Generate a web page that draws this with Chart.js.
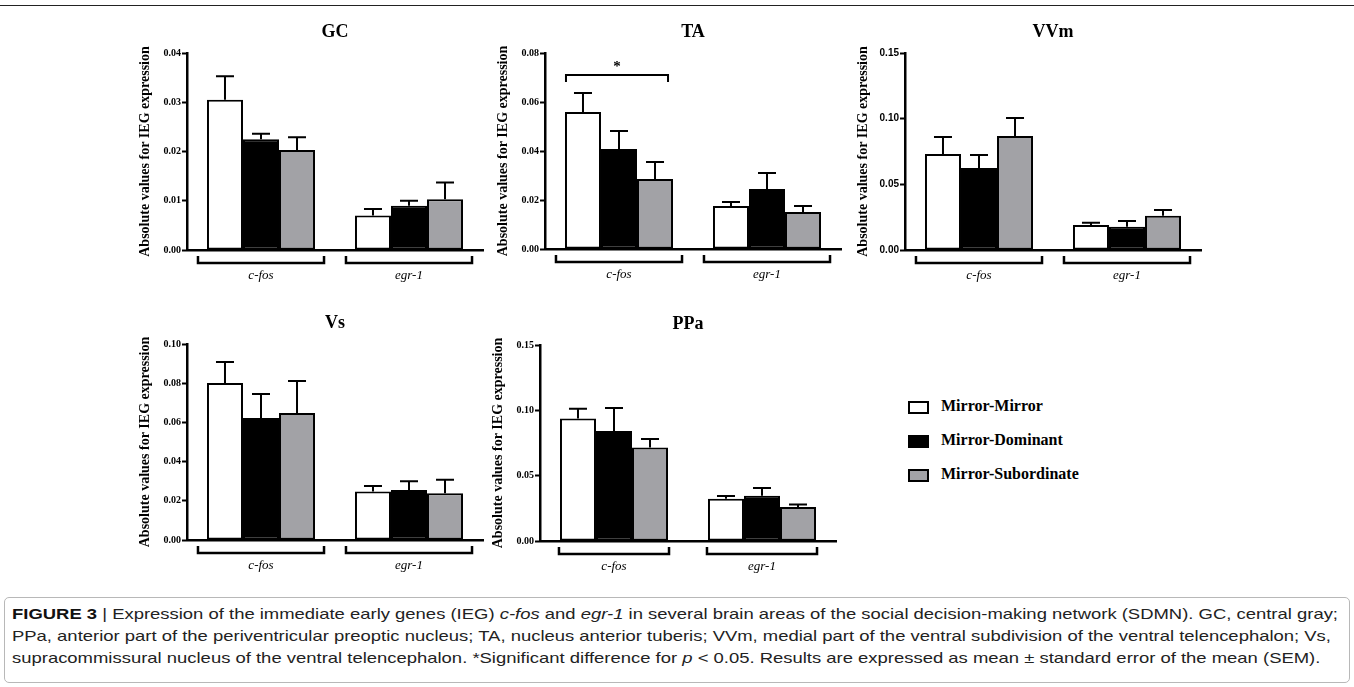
<!DOCTYPE html>
<html>
<head>
<meta charset="utf-8">
<script src="https://cdn.jsdelivr.net/npm/chart.js"></script>
<style>
  body { margin: 0; background: #fff; width: 1354px; height: 687px; position: relative; overflow: hidden; }
  canvas { position: absolute; }
  #topline { position: absolute; left: 0; top: 5px; width: 1354px; height: 0; border-top: 1.5px solid #222; }
  .leg { position: absolute; left: 908px; font: bold 16px "Liberation Serif", serif; color: #000; }
  .leg span.box { position: absolute; left: 0; width: 17px; height: 9px; border: 2px solid #000; }
  .leg span.txt { position: absolute; left: 33px; white-space: nowrap; }
  #capbox { position: absolute; left: 4px; top: 597px; width: 1344px; height: 84px; border: 1px solid #b8b8b8; border-radius: 5px; }
  .ln { position: absolute; left: 12px; white-space: nowrap; font: 15px "Liberation Sans Narrow", "Liberation Sans", sans-serif; color: #222; transform-origin: 0 50%; }
</style>
</head>
<body>
<div id="topline"></div>

<script>
  // shared categories / groups
  const genes = ['c-fos', 'egr-1'];
  const groups = ['Mirror-Mirror', 'Mirror-Dominant', 'Mirror-Subordinate'];
  const fills = ['#ffffff', '#000000', '#a2a2a6'];

  // means per group [c-fos, egr-1]
  const gcMeans  = [[0.0305, 0.0070], [0.0225, 0.0090], [0.0203, 0.0103]];
  const gcSem    = [[0.0048, 0.0013], [0.0011, 0.0010], [0.0026, 0.0034]];
  const taMeans  = [[0.0559, 0.0176], [0.0408, 0.0245], [0.0286, 0.0151]];
  const taSem    = [[0.0078, 0.0016], [0.0074, 0.0065], [0.0069, 0.0025]];
  const vvmMeans = [[0.0731, 0.0190], [0.0624, 0.0177], [0.0868, 0.0260]];
  const vvmSem   = [[0.0129, 0.0018], [0.0099, 0.0043], [0.0137, 0.0045]];
  const vsMeans  = [[0.0801, 0.0247], [0.0622, 0.0255], [0.0648, 0.0238]];
  const vsSem    = [[0.0107, 0.0029], [0.0123, 0.0045], [0.0163, 0.0070]];
  const ppaMeans = [[0.0937, 0.0324], [0.0842, 0.0347], [0.0715, 0.0260]];
  const ppaSem   = [[0.0076, 0.0020], [0.0176, 0.0058], [0.0065, 0.0020]];

  // TA significance bracket (c-fos, Mirror-Mirror vs Mirror-Subordinate)
  const taSigLevel = 0.071;

  const yTitle = 'Absolute values for IEG expression';
  const PLOT_W = 296, PAD_TOP = 50, Y_W = 54, X_H = 45, PAD_R = 8;

  // error whiskers (upper only), group brackets, labels, panel title
  const extras = {
    id: 'extras',
    afterDatasetsDraw(chart, args, opts) {
      const ctx = chart.ctx, y = chart.scales.y, area = chart.chartArea;
      ctx.save();
      ctx.strokeStyle = '#000';
      ctx.lineWidth = 2;
      chart.data.datasets.forEach((ds, di) => {
        chart.getDatasetMeta(di).data.forEach((bar, i) => {
          const top = y.getPixelForValue(ds.data[i] + ds.sem[i]);
          ctx.beginPath();
          ctx.moveTo(bar.x, bar.y);
          ctx.lineTo(bar.x, top);
          ctx.moveTo(bar.x - 9, top);
          ctx.lineTo(bar.x + 9, top);
          ctx.stroke();
        });
      });

      // brackets under each gene
      const m0 = chart.getDatasetMeta(0).data, m2 = chart.getDatasetMeta(2).data;
      ctx.lineWidth = 2.5;
      ctx.fillStyle = '#000';
      ctx.font = 'italic 13px "Liberation Serif", serif';
      ctx.textAlign = 'center';
      ctx.textBaseline = 'middle';
      genes.forEach((g, i) => {
        const l = m0[i].x - m0[i].width / 2 - opts.ext;
        const r = m2[i].x + m2[i].width / 2 + opts.ext;
        const by = area.bottom + 13;
        ctx.beginPath();
        ctx.moveTo(l, by - 7);
        ctx.lineTo(l, by);
        ctx.lineTo(r, by);
        ctx.lineTo(r, by - 7);
        ctx.stroke();
        ctx.fillText(g, (l + r) / 2, area.bottom + 26);
      });

      if (opts.sig) {
        const l = m0[0].x - m0[0].width / 2 + 1;
        const r = m2[0].x + m2[0].width / 2 - 5;
        const sy = y.getPixelForValue(opts.sig);
        ctx.lineWidth = 2;
        ctx.beginPath();
        ctx.moveTo(l, sy + 7);
        ctx.lineTo(l, sy);
        ctx.lineTo(r, sy);
        ctx.lineTo(r, sy + 7);
        ctx.stroke();
        ctx.font = 'bold 15px "Liberation Serif", serif';
        ctx.fillText('*', (l + r) / 2, sy - 8);
      }

      ctx.font = 'bold 18px "Liberation Serif", serif';
      ctx.fillText(opts.title, (area.left + area.right) / 2, area.top - 21);
      ctx.restore();
    }
  };

  function panel(title, means, sem, axisX, top, bottom, max, step, tickFamily, ext, sig) {
    const cv = document.createElement('canvas');
    const w = Y_W + PLOT_W + PAD_R, h = PAD_TOP + (bottom - top) + X_H;
    cv.width = w; cv.height = h;
    cv.style.left = (axisX - Y_W) + 'px';
    cv.style.top = (top - PAD_TOP) + 'px';
    document.body.appendChild(cv);

    new Chart(cv, {
      type: 'bar',
      data: {
        labels: genes,
        datasets: groups.map((g, k) => ({
          label: g,
          data: means[k],
          sem: sem[k],
          backgroundColor: fills[k],
          borderColor: '#000',
          borderWidth: 2,
          borderSkipped: false,
          categoryPercentage: 0.73,
          barPercentage: 1
        }))
      },
      options: {
        responsive: false,
        animation: false,
        devicePixelRatio: 1,
        layout: { padding: { top: PAD_TOP, right: PAD_R, left: 0, bottom: 0 } },
        plugins: {
          legend: { display: false },
          tooltip: { enabled: false },
          extras: { title: title, ext: ext, sig: sig }
        },
        scales: {
          x: {
            grid: { display: true, drawOnChartArea: false, drawTicks: false },
            border: { display: true, width: 2.5, color: '#000' },
            ticks: { display: false },
            afterFit(s) { s.height = X_H; }
          },
          y: {
            min: 0,
            max: max,
            ticks: {
              stepSize: step,
              padding: 1,
              color: '#000',
              font: { family: tickFamily, weight: 'bold', size: 10 },
              callback: v => v.toFixed(2)
            },
            grid: { drawOnChartArea: false, drawTicks: true, tickLength: 5, tickWidth: 2, tickColor: '#000' },
            border: { width: 2.5, color: '#000' },
            title: {
              display: true,
              text: yTitle,
              color: '#000',
              font: { family: '"Liberation Serif", serif', weight: 'bold', size: 14 }
            },
            afterFit(s) { s.width = Y_W; }
          }
        }
      },
      plugins: [extras]
    });
  }

  const serif = '"Liberation Serif", serif', sans = '"Liberation Sans", sans-serif';
  panel('GC',  gcMeans,  gcSem,  187, 53,  250, 0.04, 0.01, serif, 9, null);
  panel('TA',  taMeans,  taSem,  545, 53,  249, 0.08, 0.02, serif, 9, taSigLevel);
  panel('VVm', vvmMeans, vvmSem, 905, 53,  250, 0.15, 0.05, sans,  9, null);
  panel('Vs',  vsMeans,  vsSem,  187, 344, 540, 0.10, 0.02, serif, 9, null);
  panel('PPa', ppaMeans, ppaSem, 540, 345, 541, 0.15, 0.05, serif, 1, null);

  // legend
  groups.forEach((g, k) => {
    const d = document.createElement('div');
    d.className = 'leg';
    d.style.top = (401 + k * 34) + 'px';
    d.innerHTML = '<span class="box" style="background:' + fills[k] + '"></span>' +
                  '<span class="txt" style="top:-4px">' + g + '</span>';
    document.body.appendChild(d);
  });
</script>

<div id="capbox"></div>
<div class="ln" id="l1" style="top:605px"><b style="color:#111">FIGURE 3</b> | Expression of the immediate early genes (IEG) <i>c-fos</i> and <i>egr-1</i> in several brain areas of the social decision-making network (SDMN). GC, central gray;</div>
<div class="ln" style="top:627px">PPa, anterior part of the periventricular preoptic nucleus; TA, nucleus anterior tuberis; VVm, medial part of the ventral subdivision of the ventral telencephalon; Vs,</div>
<div class="ln" style="top:649px">supracommissural nucleus of the ventral telencephalon. *Significant difference for <i>p</i> &lt; 0.05. Results are expressed as mean ± standard error of the mean (SEM).</div>
<script>
  // squeeze caption lines to the condensed width of the original
  const l1 = document.getElementById('l1');
  const k = 1326 / l1.getBoundingClientRect().width;
  document.querySelectorAll('.ln').forEach(el => { el.style.transform = 'scaleX(' + k + ')'; });
</script>
</body>
</html>
